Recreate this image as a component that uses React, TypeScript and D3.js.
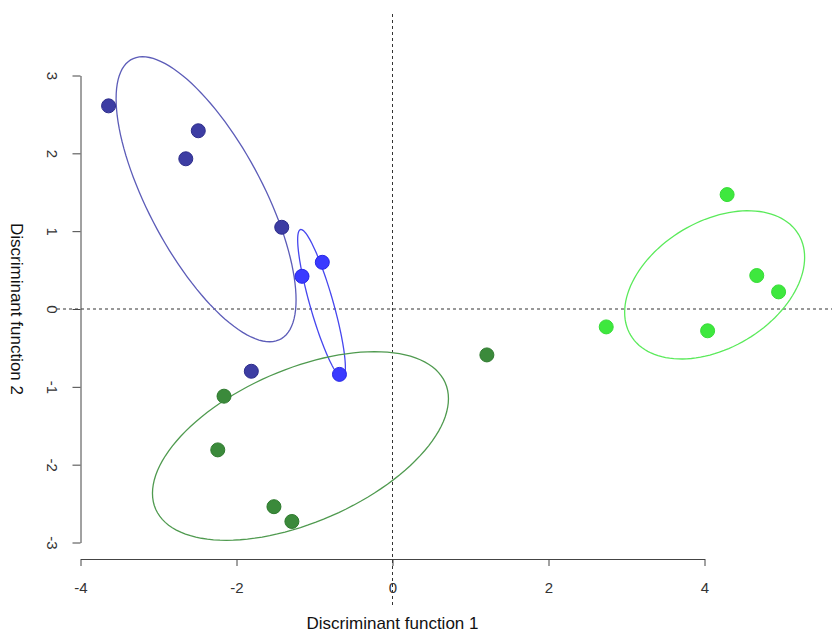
import React, { useEffect, useRef } from 'react';
import * as d3 from 'd3';

// discriminant scores per group
const darkBlueX = [-3.64, -2.49, -2.65, -1.42, -1.81];
const darkBlueY = [2.61, 2.29, 1.93, 1.05, -0.8];
const blueX = [-1.16, -0.9, -0.68];
const blueY = [0.42, 0.6, -0.84];
const darkGreenX = [-2.16, -2.24, -1.52, -1.29, 1.21];
const darkGreenY = [-1.12, -1.81, -2.54, -2.73, -0.59];
const lightGreenX = [4.29, 4.67, 4.95, 2.74, 4.04];
const lightGreenY = [1.47, 0.43, 0.22, -0.23, -0.28];

// ellipses: centre + covariance (data units), one per group
const ellipseCx = [-2.39, -0.91, -1.18, 4.13];
const ellipseCy = [1.41, 0.07, -1.76, 0.31];
const ellipseVarX = [1.331, 0.0935, 3.6, 1.331];
const ellipseVarY = [3.352, 0.905, 1.468, 0.907];
const ellipseCov = [-1.491, -0.2508, 1.153, 0.407];

const xTicks = [-4, -2, 0, 2, 4];
const yTicks = [-3, -2, -1, 0, 1, 2, 3];

const pointFill = ['#3d3da3', '#3a3aff', '#3b8a3b', '#3ee83e'];
const pointStroke = ['#2d2d8c', '#2626e6', '#2e7a2e', '#36dc36'];
const ellipseColor = ['#5c5cb8', '#4646ee', '#4f9a4f', '#5aea5a'];

const W = 832;
const H = 634;

const App: React.FC = () => {
  const ref = useRef<SVGSVGElement | null>(null);

  useEffect(() => {
    const svg = d3.select(ref.current);
    svg.selectAll('*').remove();

    const x = d3.scaleLinear().domain([-4, 4]).range([80.5, 704.5]);
    const y = d3.scaleLinear().domain([-3, 3]).range([542.5, 75.5]);

    // plot region (abline extent)
    const region = { left: 57, right: W, top: 14, bottom: 605 };

    svg
      .append('line')
      .attr('x1', x(0))
      .attr('x2', x(0))
      .attr('y1', region.top)
      .attr('y2', region.bottom)
      .attr('stroke', '#333')
      .attr('stroke-dasharray', '3,3');
    svg
      .append('line')
      .attr('x1', region.left)
      .attr('x2', region.right)
      .attr('y1', y(0))
      .attr('y2', y(0))
      .attr('stroke', '#333')
      .attr('stroke-dasharray', '3,3');

    const line = d3
      .line<[number, number]>()
      .x((d) => x(d[0]))
      .y((d) => y(d[1]))
      .curve(d3.curveLinearClosed);

    ellipseCx.forEach((cx, i) => {
      const sxx = ellipseVarX[i];
      const syy = ellipseVarY[i];
      const sxy = ellipseCov[i];
      const l11 = Math.sqrt(sxx);
      const l21 = sxy / l11;
      const l22 = Math.sqrt(syy - l21 * l21);
      const pts: [number, number][] = d3.range(120).map((k) => {
        const t = (k / 120) * Math.PI * 2;
        const c = Math.cos(t);
        const s = Math.sin(t);
        return [cx + l11 * c, ellipseCy[i] + l21 * c + l22 * s];
      });
      svg
        .append('path')
        .attr('d', line(pts))
        .attr('fill', 'none')
        .attr('stroke', ellipseColor[i])
        .attr('stroke-width', 1.3);
    });

    const groups = [
      [darkBlueX, darkBlueY],
      [blueX, blueY],
      [darkGreenX, darkGreenY],
      [lightGreenX, lightGreenY],
    ];
    groups.forEach(([gx, gy], i) => {
      svg
        .append('g')
        .selectAll('circle')
        .data(gx.map((v, j) => [v, gy[j]]))
        .join('circle')
        .attr('cx', (d) => x(d[0]))
        .attr('cy', (d) => y(d[1]))
        .attr('r', 7)
        .attr('fill', pointFill[i])
        .attr('stroke', pointStroke[i])
        .attr('stroke-width', 1);
    });

    const font = 'Liberation Sans, Arial, sans-serif';

    const xAxis = svg
      .append('g')
      .attr('transform', `translate(0,559)`)
      .call(
        d3
          .axisBottom(x)
          .tickValues(xTicks)
          .tickSize(7)
          .tickSizeOuter(0)
          .tickFormat((d) => String(d))
      );
    xAxis.select('.domain').attr('stroke', '#444');
    xAxis.selectAll('.tick line').attr('stroke', '#444');
    xAxis
      .selectAll('.tick text')
      .attr('y', 34)
      .attr('dy', 0)
      .attr('fill', '#333')
      .style('font-family', font)
      .style('font-size', '15px');

    const yAxis = svg
      .append('g')
      .attr('transform', `translate(80.5,0)`)
      .call(
        d3
          .axisLeft(y)
          .tickValues(yTicks)
          .tickSize(8)
          .tickSizeOuter(0)
          .tickFormat((d) => String(d))
      );
    yAxis.select('.domain').attr('stroke', '#444');
    yAxis.selectAll('.tick line').attr('stroke', '#444');
    yAxis
      .selectAll('.tick text')
      .attr('transform', 'rotate(90)')
      .attr('x', 0)
      .attr('y', 34)
      .attr('dy', 0)
      .attr('text-anchor', 'middle')
      .attr('fill', '#333')
      .style('font-family', font)
      .style('font-size', '15px');

    svg
      .append('text')
      .attr('x', x(0))
      .attr('y', 629)
      .attr('text-anchor', 'middle')
      .attr('fill', '#111')
      .style('font-family', font)
      .style('font-size', '17px')
      .text('Discriminant function 1');

    svg
      .append('text')
      .attr('transform', `translate(11,${y(0)}) rotate(90)`)
      .attr('text-anchor', 'middle')
      .attr('fill', '#111')
      .style('font-family', font)
      .style('font-size', '17px')
      .text('Discriminant function 2');
  }, []);

  return (
    <svg
      ref={ref}
      width={W}
      height={H}
      style={{ position: 'absolute', left: 0, top: 0, background: '#fff' }}
    />
  );
};

export default App;
